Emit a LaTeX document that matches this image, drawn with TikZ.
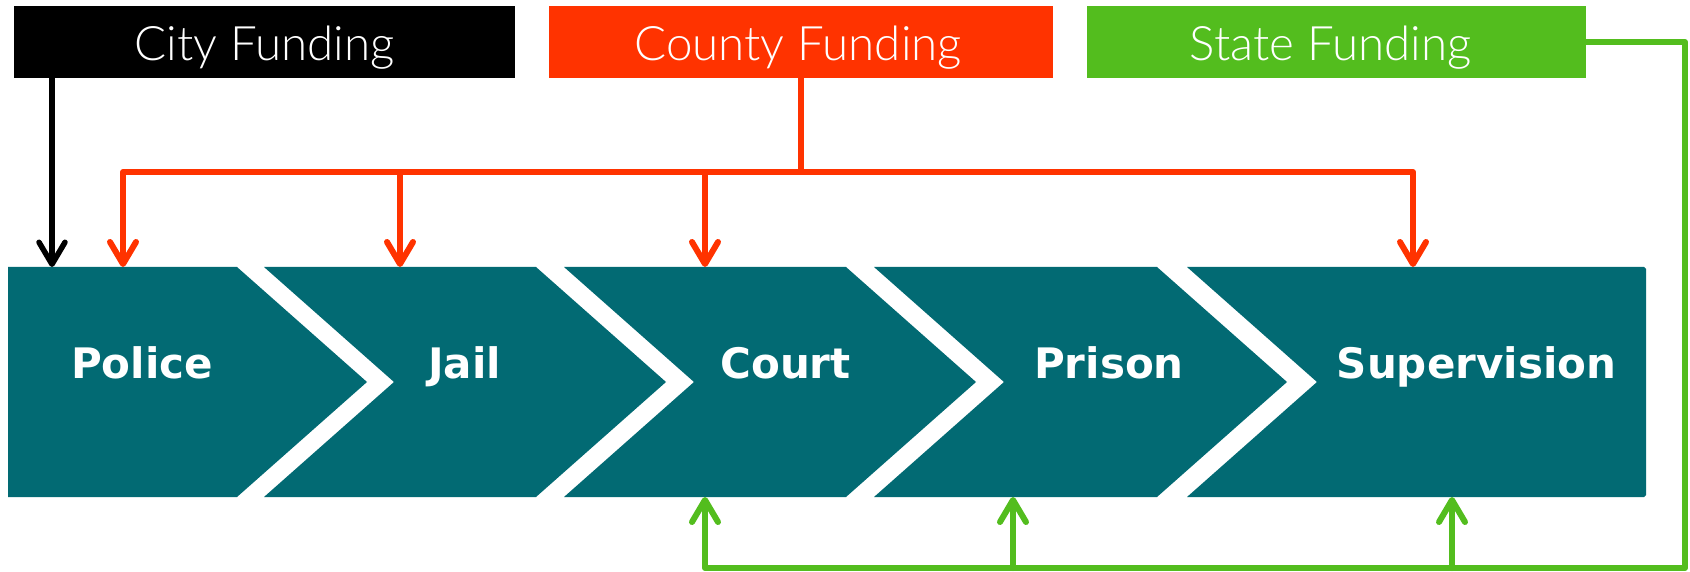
\documentclass[tikz,border=0pt]{standalone}
\usepackage{fontspec}
\usetikzlibrary{arrows.meta}
\IfFontExistsTF{Lato Light}{\newfontfamily\toplab{Lato Light}}{\newfontfamily\toplab{Lato}}
\newfontfamily\stagefont{DejaVu Sans Bold}
\definecolor{teal}{HTML}{026A73}
\definecolor{cred}{HTML}{FF3300}
\definecolor{cgreen}{HTML}{53BD1E}
\tikzset{
  fundbox/.style={inner sep=0pt, minimum width=#1, text height=54pt, text depth=18pt, anchor=north west, text=white, font=\toplab\fontsize{47.5}{56}\selectfont},
  stagelabel/.style={anchor=base, text=white, inner sep=0pt, font=\stagefont\fontsize{42}{50}\selectfont},
  chev/.style={fill=teal, draw=none},
  conn/.style={line width=6pt, line join=round, line cap=round},
  arr/.style={-{Straight Barb[length=22pt,width=26pt,line cap=round,line join=round]}},
}
\begin{document}
\begin{tikzpicture}[x=1pt,y=-1pt]
\useasboundingbox[fill=white] (0,0) rectangle (1690,572);
% chevrons
\fill[chev] (8,267) -- (237,267) -- (367,382) -- (237,497) -- (8,497) -- cycle;
\fill[chev] (264,267) -- (536,267) -- (666,382) -- (536,497) -- (264,497) -- (394,382) -- cycle;
\fill[chev] (564,267) -- (846,267) -- (976,382) -- (846,497) -- (564,497) -- (694,382) -- cycle;
\fill[chev] (874,267) -- (1157,267) -- (1287,382) -- (1157,497) -- (874,497) -- (1004,382) -- cycle;
\fill[chev] (1187,267) -- (1644,267) -- (1646,269) -- (1646,495) -- (1644,497) -- (1187,497) -- (1317,382) -- cycle;
% stage labels
\node[stagelabel] (police) at (142,378) {Police};
\node[stagelabel] (jail) at (464.5,378) {Jail};
\node[stagelabel] (court) at (785.5,378) {Court};
\node[stagelabel] (prison) at (1109,378) {Prison};
\node[stagelabel] (superv) at (1476.5,378) {Supervision};
% funding boxes
\node[fundbox=501pt, fill=black] (city) at (14,6) {City Funding};
\node[fundbox=504pt, fill=cred] (county) at (549,6) {\hspace*{-6pt}County Funding};
\node[fundbox=499pt, fill=cgreen] (state) at (1087,6) {\hspace*{-12pt}State Funding};
% connector end points on the band
\coordinate (policeA) at (52,267);
\coordinate (policeB) at (123,267);
\coordinate (jailA) at (400,267);
\coordinate (courtA) at (705,267);
\coordinate (supA) at (1413,267);
\coordinate (courtB) at (705,497);
\coordinate (prisonB) at (1013,497);
\coordinate (supB) at (1452,497);
\coordinate (hub) at (801,172);
\coordinate (g1) at (1685,42);
\coordinate (g2) at (1685,568);
\coordinate (g3) at (705,568);
% city
\draw[conn, line width=5.5pt, black, arr] (city.south west -| policeA) -- (policeA);
% county
\draw[conn, cred] (county.south -| hub) -- (hub);
\draw[conn, cred, arr] (hub) -| (policeB);
\draw[conn, cred, arr] (hub) -| (jailA);
\draw[conn, cred, arr] (hub) -| (courtA);
\draw[conn, cred, arr] (hub) -| (supA);
% state
\draw[conn, cgreen, arr] (state.east |- g1) -- (g1) -- (g2) -- (g3) -- (courtB);
\draw[conn, cgreen, arr] (prisonB |- g3) -- (prisonB);
\draw[conn, cgreen, arr] (supB |- g3) -- (supB);
\end{tikzpicture}
\end{document}
